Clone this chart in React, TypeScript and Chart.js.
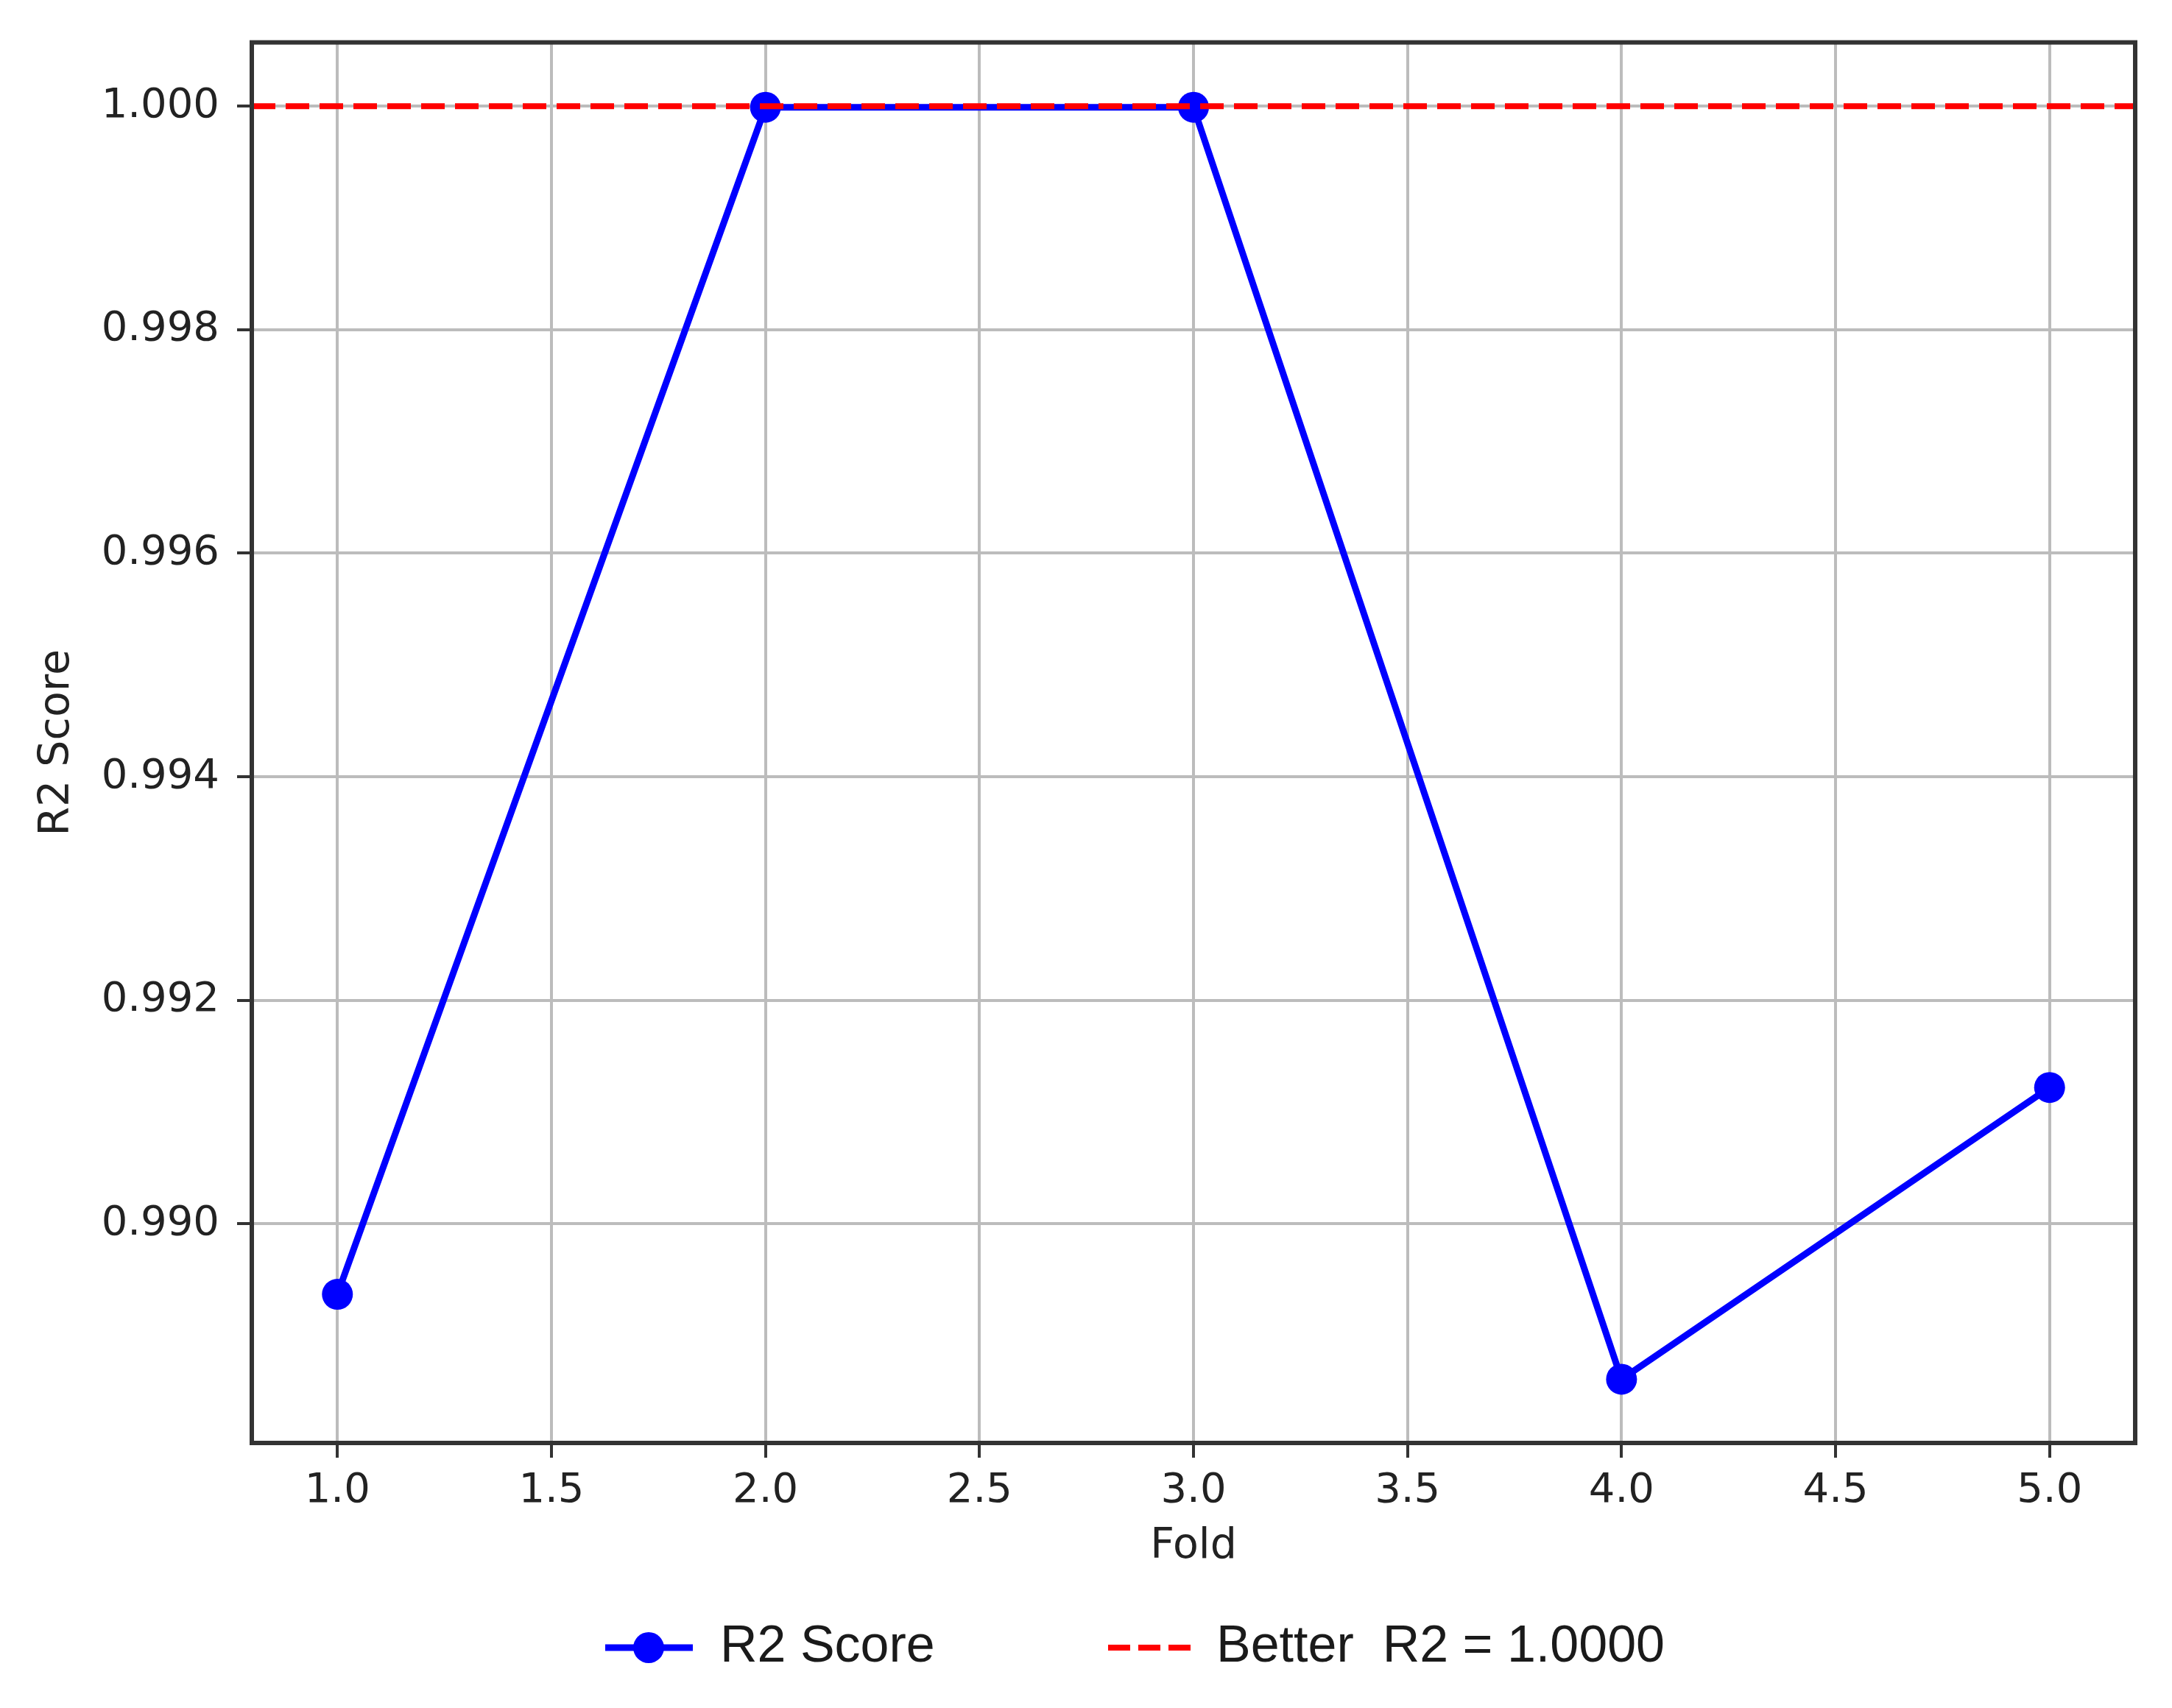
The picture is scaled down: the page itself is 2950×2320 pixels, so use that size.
import React, { useEffect, useRef } from 'react';
import { Chart, registerables } from 'chart.js';

Chart.register(...registerables);

// ---- data ----
const FOLDS = [1, 2, 3, 4, 5];
const R2_SCORES = [0.98937, 0.99999, 0.99999, 0.98861, 0.99122];
const BEST_R2 = 1.0;
const X_TICKS = [1.0, 1.5, 2.0, 2.5, 3.0, 3.5, 4.0, 4.5, 5.0];
const Y_TICKS = [0.99, 0.992, 0.994, 0.996, 0.998, 1.0];
const X_LIMITS = [0.8, 5.2];
const Y_LIMITS = [0.98804, 1.00057];
const SERIES_LABEL = 'R2 Score';
const REF_LABEL = 'Better  R2 = 1.0000';
const X_TITLE = 'Fold';
const Y_TITLE = 'R2 Score';

const W = 2950;
const H = 2320;

const framePlugin = {
  id: 'frame',
  afterDraw(chart: any) {
    const { ctx } = chart;
    const { left, top, right, bottom } = chart.chartArea;
    ctx.save();
    ctx.strokeStyle = '#333333';
    ctx.lineWidth = 6;
    ctx.strokeRect(left, top, right - left, bottom - top);
    ctx.restore();
  },
};

const legendPlugin = {
  id: 'bottomLegend',
  afterDraw(chart: any) {
    const { ctx } = chart;
    const ds = chart.data.datasets;
    const y = 2238;
    ctx.save();
    ctx.font = '70px "Liberation Sans", Arial, sans-serif';
    ctx.fillStyle = '#1a1a1a';
    ctx.textBaseline = 'middle';
    ctx.textAlign = 'left';

    // item 1: line with marker
    const a = ds[0];
    ctx.strokeStyle = a.borderColor;
    ctx.lineWidth = a.borderWidth;
    ctx.setLineDash([]);
    ctx.beginPath();
    ctx.moveTo(822, y);
    ctx.lineTo(941, y);
    ctx.stroke();
    ctx.fillStyle = a.pointBackgroundColor;
    ctx.beginPath();
    ctx.arc(881, y, a.pointRadius, 0, Math.PI * 2);
    ctx.fill();
    ctx.fillStyle = '#1a1a1a';
    ctx.fillText(a.label, 978, y);

    // item 2: dashed line
    const b = ds[1];
    ctx.strokeStyle = b.borderColor;
    ctx.lineWidth = b.borderWidth;
    ctx.setLineDash([30, 11]);
    ctx.beginPath();
    ctx.moveTo(1505, y);
    ctx.lineTo(1618, y);
    ctx.stroke();
    ctx.setLineDash([]);
    ctx.fillText(b.label, 1652, y);
    ctx.restore();
  },
};

export default function App() {
  const ref = useRef<HTMLCanvasElement | null>(null);

  useEffect(() => {
    document.body.style.margin = '0';
    const canvas = ref.current;
    if (!canvas) return;
    Chart.defaults.font.family = '"DejaVu Sans", sans-serif';

    const chart = new Chart(canvas, {
      type: 'line',
      data: {
        datasets: [
          {
            label: SERIES_LABEL,
            data: FOLDS.map((f, i) => ({ x: f, y: R2_SCORES[i] })),
            borderColor: '#0000ff',
            backgroundColor: '#0000ff',
            pointBackgroundColor: '#0000ff',
            pointBorderColor: '#0000ff',
            pointBorderWidth: 0,
            pointRadius: 21,
            borderWidth: 9,
            tension: 0,
            fill: false,
            order: 1,
          } as any,
          {
            label: REF_LABEL,
            data: [
              { x: X_LIMITS[0], y: BEST_R2 },
              { x: X_LIMITS[1], y: BEST_R2 },
            ],
            borderColor: '#ff0000',
            backgroundColor: '#ff0000',
            borderWidth: 8,
            borderDash: [32, 14],
            pointRadius: 0,
            tension: 0,
            fill: false,
            order: 0,
          } as any,
        ],
      },
      options: {
        responsive: false,
        devicePixelRatio: 1,
        animation: false,
        layout: { padding: { left: 0, top: 56, right: 50, bottom: 0 } },
        plugins: {
          legend: { display: false },
          tooltip: { enabled: false },
        },
        scales: {
          x: {
            type: 'linear',
            min: X_LIMITS[0],
            max: X_LIMITS[1],
            afterBuildTicks: (scale: any) => {
              scale.ticks = X_TICKS.map((v) => ({ value: v }));
            },
            afterFit: (scale: any) => {
              scale.height = 360;
            },
            ticks: {
              font: { size: 56, family: '"DejaVu Sans", sans-serif' },
              color: '#222222',
              padding: 12,
              maxRotation: 0,
              autoSkip: false,
              callback: (v: any) => Number(v).toFixed(1),
            },
            grid: {
              color: '#bcbcbc',
              lineWidth: 4,
              drawTicks: true,
              tickLength: 20,
              tickColor: '#333333',
              tickWidth: 4,
            },
            border: { display: false },
            title: {
              display: true,
              text: X_TITLE,
              color: '#222222',
              font: { size: 57, family: '"DejaVu Sans", sans-serif', lineHeight: 1.2 },
              padding: { top: 0, bottom: 185 },
            },
          },
          y: {
            type: 'linear',
            min: Y_LIMITS[0],
            max: Y_LIMITS[1],
            afterBuildTicks: (scale: any) => {
              scale.ticks = Y_TICKS.map((v) => ({ value: v }));
            },
            afterFit: (scale: any) => {
              scale.width = 342;
            },
            ticks: {
              font: { size: 56, family: '"DejaVu Sans", sans-serif' },
              color: '#222222',
              padding: 24,
              autoSkip: false,
              callback: (v: any) => Number(v).toFixed(3),
            },
            grid: {
              color: '#bcbcbc',
              lineWidth: 4,
              drawTicks: true,
              tickLength: 20,
              tickColor: '#333333',
              tickWidth: 4,
            },
            border: { display: false },
            title: {
              display: true,
              text: Y_TITLE,
              color: '#222222',
              font: { size: 57, family: '"DejaVu Sans", sans-serif', lineHeight: 1.2 },
              padding: { top: 44, bottom: 0 },
            },
          },
        },
      },
      plugins: [framePlugin, legendPlugin],
    } as any);

    return () => chart.destroy();
  }, []);

  return <canvas ref={ref} width={W} height={H} style={{ display: 'block' }} />;
}
